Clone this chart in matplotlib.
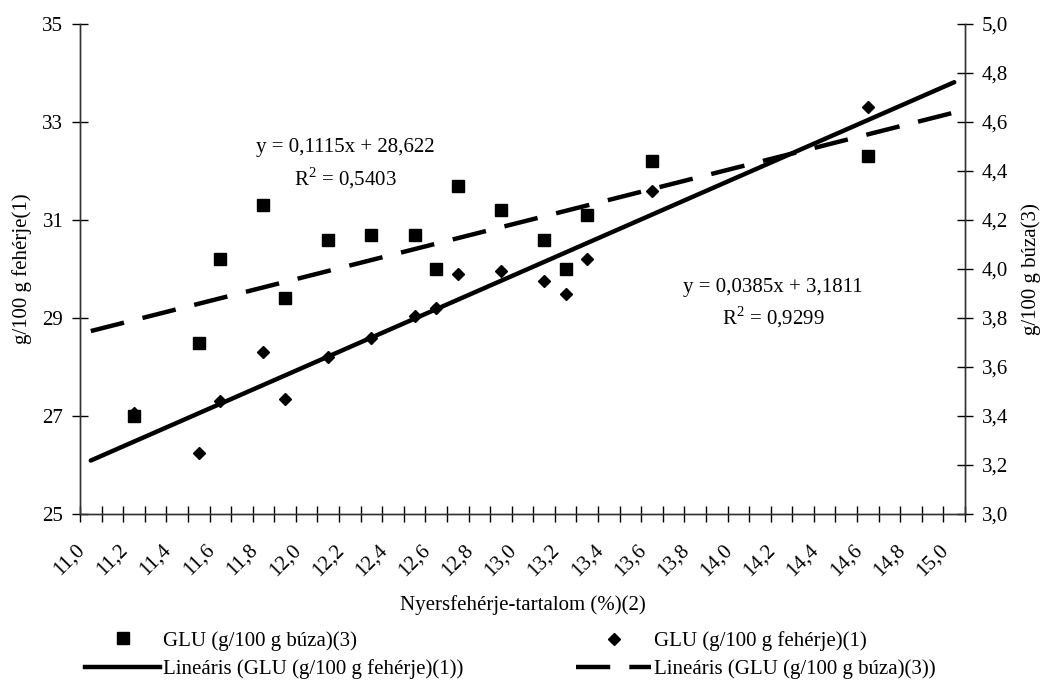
import numpy as np
import matplotlib
matplotlib.use("Agg")
import matplotlib.pyplot as plt
from matplotlib.lines import Line2D
from matplotlib.ticker import FixedLocator, FuncFormatter, MultipleLocator
from matplotlib.transforms import ScaledTranslation

plt.rcParams["font.family"] = ["Liberation Serif", "DejaVu Serif"]
plt.rcParams["mathtext.fontset"] = "custom"
plt.rcParams["mathtext.rm"] = "Liberation Serif"
plt.rcParams["font.size"] = 15

# nyersfehérje-tartalom (%)
protein = [11.2, 11.5, 11.6, 11.8, 11.9, 12.1, 12.3, 12.5,
           12.6, 12.7, 12.9, 13.1, 13.2, 13.3, 13.6, 14.6]
# GLU g/100 g búza (right axis)
glu_buza = [3.40, 3.70, 4.04, 4.26, 3.88, 4.12, 4.14, 4.14,
            4.00, 4.34, 4.24, 4.12, 4.00, 4.22, 4.44, 4.46]
# GLU g/100 g fehérje (left axis)
glu_feherje = [27.07, 26.25, 27.3, 28.3, 27.35, 28.2, 28.6, 29.05,
               29.2, 29.9, 29.95, 29.75, 29.5, 30.2, 31.6, 33.3]
trend_x = [11.0, 15.0]
x_labels = ["11,0", "11,2", "11,4", "11,6", "11,8", "12,0", "12,2",
            "12,4", "12,6", "12,8", "13,0", "13,2", "13,4", "13,6",
            "13,8", "14,0", "14,2", "14,4", "14,6", "14,8", "15,0"]
left_ticks = [25, 27, 29, 31, 33, 35]

comma = FuncFormatter(lambda v, _: f"{v:.1f}".replace(".", ","))

fig = plt.figure(figsize=(10.43, 6.80), dpi=100)
ax = fig.add_axes([80 / 1043, 166 / 680, 885 / 1043, 490 / 680])
ax2 = ax.twinx()

DASH = (0, (7.7, 4.3))
LW = 3.2

# trendlines from least squares fits
tx = np.array(trend_x)
k1, b1 = np.polyfit(protein, glu_feherje, 1)
ax.plot(tx, k1 * tx + b1, color="black", lw=LW, solid_capstyle="round", zorder=2)
k2, b2 = np.polyfit(protein, glu_buza, 1)
ax2.plot(tx, k2 * tx + b2, color="black", lw=LW, ls=DASH, dash_capstyle="butt", zorder=2)

ax.plot(protein, glu_feherje, ls="none", marker="D", ms=6.4, color="black", zorder=3)
ax2.plot(protein, glu_buza, ls="none", marker="s", ms=9, color="black", zorder=3)

# axes limits and ticks
ax.set_xlim(10.95, 15.05)
ax.set_ylim(25, 35)
ax2.set_ylim(3.0, 5.0)
ax.yaxis.set_major_locator(FixedLocator(left_ticks))
ax2.yaxis.set_major_locator(MultipleLocator(0.2))
ax2.yaxis.set_major_formatter(comma)

ax.xaxis.set_major_locator(FixedLocator(np.arange(10.95, 15.06, 0.1)))
ax.xaxis.set_major_formatter(FuncFormatter(lambda v, _: ""))
ax.tick_params(axis="x", direction="inout", length=11, width=1)
ax.tick_params(axis="y", direction="inout", length=12, width=1, pad=6)
ax2.tick_params(axis="y", direction="inout", length=12, width=1, pad=6)

off = ScaledTranslation(-15.5 / 100, -26.5 / 100, fig.dpi_scale_trans)
for lbl in x_labels:
    ax.text(float(lbl.replace(",", ".")), 0, lbl, transform=ax.get_xaxis_transform() + off,
            rotation=45, rotation_mode="anchor", ha="right", va="top")

for a in (ax, ax2):
    a.spines["top"].set_visible(False)
    for s in ("left", "right", "bottom"):
        a.spines[s].set_linewidth(1)
        a.spines[s].set_color("#333333")

ax.set_xlabel("Nyersfehérje-tartalom (%)(2)")
ax.xaxis.set_label_coords(0.5, -0.1857)
ax.xaxis.label.set_va("center")
ax.set_ylabel("g/100 g fehérje(1)")
ax.yaxis.set_label_coords(-0.066, 0.5)
ax.yaxis.label.set_va("center")
ax2.set_ylabel("g/100 g búza(3)")
ax2.yaxis.set_label_coords(1.0745, 0.5)
ax2.yaxis.label.set_va("center")

# trendline equations
ax.text(12.18, 32.47, "y = 0,1115x + 28,622", ha="center", va="center")
ax.text(12.18, 31.86, "R$^2$ = 0,5403", ha="center", va="center")
ax.text(14.16, 29.63, "y = 0,0385x + 3,1811", ha="center", va="center")
ax.text(14.16, 29.01, "R$^2$ = 0,9299", ha="center", va="center")

col1 = [
    Line2D([], [], ls="none", marker="s", ms=9, color="black", label="GLU (g/100 g búza)(3)"),
    Line2D([], [], color="black", lw=LW, label="Lineáris (GLU (g/100 g fehérje)(1))"),
]
col2 = [
    Line2D([], [], ls="none", marker="D", ms=6.4, color="black", label="GLU (g/100 g fehérje)(1)"),
    Line2D([], [], color="black", lw=LW, ls=DASH, dash_capstyle="butt",
           label="Lineáris (GLU (g/100 g búza)(3))"),
]
leg_kw = dict(loc="upper left", frameon=False, borderpad=0, borderaxespad=0,
              handlelength=3.6, handletextpad=0.15, labelspacing=0.42)
fig.legend(handles=col1, bbox_to_anchor=(85 / 1043, 1 - 631 / 680), **leg_kw)
fig.legend(handles=col2, bbox_to_anchor=(576 / 1043, 1 - 631 / 680), **leg_kw)

fig.savefig("out.png", dpi=100)
